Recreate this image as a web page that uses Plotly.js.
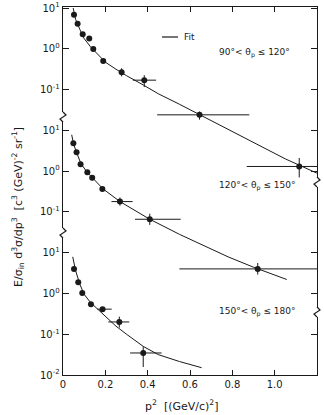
<!DOCTYPE html>
<html>
<head>
<meta charset="utf-8">
<script src="https://cdn.plot.ly/plotly-3.0.1.min.js"></script>
<style>html,body{margin:0;padding:0;background:#fff;}#chart{width:324px;height:415px;}</style>
</head>
<body>
<div id="chart"></div>
<script>
// ---- Panel 1: 90° < θp ≤ 120° ----
const p1X = [0.052, 0.069, 0.093, 0.124, 0.143, 0.19, 0.277, 0.384, 0.645, 1.116];
const p1Y = [6.8, 4.1, 2.26, 1.8, 0.99, 0.50, 0.265, 0.17, 0.024, 0.0013];
const p1XErrMinus = [0, 0, 0, 0, 0, 0, 0, 0.054, 0.20, 0.248];
const p1XErrPlus  = [0, 0, 0, 0, 0, 0, 0, 0.056, 0.235, 0.084];
const p1YErrPlus  = [0, 0, 0, 0, 0, 0, 0.069, 0.055, 0.0049, 0.0008];
const p1YErrMinus = [0, 0, 0, 0, 0, 0, 0.054, 0.055, 0.0057, 0.0006];
const fit1X = [0.048, 0.06, 0.08, 0.10, 0.13, 0.16, 0.20, 0.25, 0.30, 0.38, 0.45, 0.55, 0.65, 0.75, 0.85, 0.95, 1.05, 1.2];
const fit1Y = [10.0, 5.2, 2.95, 1.78, 1.12, 0.76, 0.47, 0.316, 0.219, 0.129, 0.079, 0.0437, 0.0234, 0.0126, 0.0068, 0.0036, 0.0020, 0.00089];

// ---- Panel 2: 120° < θp ≤ 150° ----
const p2X = [0.049, 0.064, 0.083, 0.115, 0.138, 0.186, 0.269, 0.41, 0.92];
const p2Y = [4.83, 2.90, 1.48, 0.94, 0.69, 0.366, 0.179, 0.066, 0.0040];
const p2XErrMinus = [0, 0, 0, 0, 0, 0, 0.04, 0.07, 0.37];
const p2XErrPlus  = [0, 0, 0, 0, 0, 0, 0.06, 0.146, 0.28];
const p2YErrPlus  = [0, 0, 0, 0, 0.1, 0, 0.046, 0.024, 0.0016];
const p2YErrMinus = [0, 0, 0, 0, 0.1, 0, 0.037, 0.018, 0.0011];
const fit2X = [0.041, 0.05, 0.065, 0.085, 0.115, 0.14, 0.19, 0.27, 0.35, 0.41, 0.55, 0.655, 0.78, 0.90, 1.057];
const fit2Y = [7.8, 4.6, 2.8, 1.51, 0.93, 0.68, 0.363, 0.178, 0.100, 0.066, 0.0282, 0.0155, 0.0079, 0.0044, 0.0022];

// ---- Panel 3: 150° < θp ≤ 180° ----
const p3X = [0.052, 0.072, 0.091, 0.132, 0.187, 0.266, 0.379];
const p3Y = [3.98, 1.89, 1.02, 0.547, 0.412, 0.20, 0.0347];
const p3XErrMinus = [0, 0, 0, 0, 0.025, 0.052, 0.062];
const p3XErrPlus  = [0, 0, 0, 0, 0.043, 0.047, 0.087];
const p3YErrPlus  = [0, 0, 0.1, 0.06, 0.05, 0.07, 0.0155];
const p3YErrMinus = [0, 0, 0.1, 0.06, 0.04, 0.055, 0.019];
const fit3X = [0.046, 0.06, 0.08, 0.10, 0.13, 0.19, 0.25, 0.30, 0.38, 0.45, 0.55, 0.655];
const fit3Y = [7.9, 3.55, 1.66, 0.95, 0.60, 0.30, 0.158, 0.10, 0.050, 0.0316, 0.0214, 0.0151];

// tick labels
const xTickVals = [0, 0.2, 0.4, 0.6, 0.8, 1.0, 1.2];
const xTickText = ['0', '0.2', '0.4', '0.6', '0.8', '1.0', '1.2'];
const yTickVals3 = [10, 1, 0.1];
const yTickText3 = ['10<sup>1</sup>', '10<sup>0</sup>', '10<sup>-1</sup>'];
const yTickVals4 = [10, 1, 0.1, 0.01];
const yTickText4 = ['10<sup>1</sup>', '10<sup>0</sup>', '10<sup>-1</sup>', '10<sup>-2</sup>'];
const panelLabels = ['90°< θ<sub>p</sub> ≤ 120°', '120°< θ<sub>p</sub> ≤ 150°', '150°< θ<sub>p</sub> ≤ 180°'];

const ink = '#1a1a1a';
function pts(x, y, xm, xp, ym, yp, ya) {
  return {
    x: x, y: y, yaxis: ya, type: 'scatter', mode: 'markers', showlegend: false,
    marker: {color: ink, size: 6},
    error_x: {type: 'data', symmetric: false, array: xp, arrayminus: xm, color: ink, thickness: 1, width: 0},
    error_y: {type: 'data', symmetric: false, array: yp, arrayminus: ym, color: ink, thickness: 1, width: 0}
  };
}
function fit(x, y, ya) {
  return {x: x, y: y, yaxis: ya, type: 'scatter', mode: 'lines', showlegend: false,
          line: {color: ink, width: 1}};
}
const data = [
  fit(fit1X, fit1Y, 'y'), pts(p1X, p1Y, p1XErrMinus, p1XErrPlus, p1YErrMinus, p1YErrPlus, 'y'),
  fit(fit2X, fit2Y, 'y2'), pts(p2X, p2Y, p2XErrMinus, p2XErrPlus, p2YErrMinus, p2YErrPlus, 'y2'),
  fit(fit3X, fit3Y, 'y3'), pts(p3X, p3Y, p3XErrMinus, p3XErrPlus, p3YErrMinus, p3YErrPlus, 'y3')
];

// geometry helpers (pixel -> paper)
const L = 63, R = 7, T = 7, B = 40, W = 324, H = 415;
const pw = W - L - R, ph = H - T - B;
const px = v => (v - L) / pw;
const py = v => (H - B - v) / ph;

function yax(range, vals, text, extra) {
  return Object.assign({
    type: 'log', range: range, tickvals: vals, ticktext: text,
    ticks: 'inside', ticklen: 6, tickwidth: 1, tickcolor: ink,
    showline: true, linecolor: ink, linewidth: 1.3, mirror: 'ticks',
    showgrid: false, zeroline: false,
    tickfont: {family: 'DejaVu Sans, sans-serif', size: 10, color: ink}
  }, extra || {});
}

const shapes = [];
function zig(xpx, ypx) {
  shapes.push({type: 'line', xref: 'paper', yref: 'paper', x0: px(xpx), x1: px(xpx), y0: py(ypx - 5), y1: py(ypx + 5),
               line: {color: '#fff', width: 3}, layer: 'above'});
  const p = [[xpx, ypx - 5], [xpx + 3, ypx - 2], [xpx - 3, ypx + 2], [xpx, ypx + 5]];
  shapes.push({type: 'path', xref: 'paper', yref: 'paper', layer: 'above',
    path: 'M ' + p.map(q => px(q[0]) + ',' + py(q[1])).join(' L '),
    line: {color: ink, width: 1.2}});
}
zig(63, 117); zig(63, 233); zig(317, 182); zig(317, 312);
shapes.push({type: 'line', xref: 'paper', yref: 'paper', x0: px(162), x1: px(178), y0: py(37), y1: py(37),
             line: {color: ink, width: 1.2}});

const f = (s) => ({family: 'DejaVu Sans, sans-serif', size: s, color: ink});
const annotations = [
  {xref: 'paper', yref: 'paper', x: px(182), y: py(37), text: 'Fit', showarrow: false, xanchor: 'left', yanchor: 'middle', font: f(9)},
  {xref: 'paper', yref: 'paper', x: px(254), y: py(53), text: panelLabels[0], showarrow: false, xanchor: 'center', yanchor: 'middle', font: f(9)},
  {xref: 'paper', yref: 'paper', x: px(257), y: py(186), text: panelLabels[1], showarrow: false, xanchor: 'center', yanchor: 'middle', font: f(9)},
  {xref: 'paper', yref: 'paper', x: px(257), y: py(312), text: panelLabels[2], showarrow: false, xanchor: 'center', yanchor: 'middle', font: f(9)},
  {xref: 'paper', yref: 'paper', x: px(18), y: py(207), textangle: -90, showarrow: false, xanchor: 'center', yanchor: 'middle',
   text: 'E/σ<sub>in</sub> d<sup>3</sup>σ/dp<sup>3</sup>  [c<sup>3</sup> (GeV)<sup>-2</sup> sr<sup>-1</sup>]', font: f(11)},
  {xref: 'paper', yref: 'paper', x: px(182), y: py(405), showarrow: false, xanchor: 'center', yanchor: 'middle',
   text: 'p<sup>2</sup>  [(GeV/c)<sup>2</sup>]', font: f(11)}
];

const layout = {
  width: W, height: H, margin: {l: L, r: R, t: T, b: B},
  paper_bgcolor: '#fff', plot_bgcolor: '#fff', showlegend: false,
  xaxis: {range: [0, 1.2], tickvals: xTickVals, ticktext: xTickText, ticks: 'inside', ticklen: 5, tickcolor: ink,
          showline: true, linecolor: ink, linewidth: 1.3, mirror: 'ticks', showgrid: false, zeroline: false,
          tickfont: f(10)},
  yaxis: yax([-8, 1.025], yTickVals3, yTickText3),
  yaxis2: yax([-5, 4.025], yTickVals3, yTickText3, {overlaying: 'y', side: 'left'}),
  yaxis3: yax([-2, 7.025], yTickVals4, yTickText4, {overlaying: 'y', side: 'left'}),
  shapes: shapes, annotations: annotations
};
Plotly.newPlot('chart', data, layout, {staticPlot: true, displayModeBar: false});
</script>
</body>
</html>
